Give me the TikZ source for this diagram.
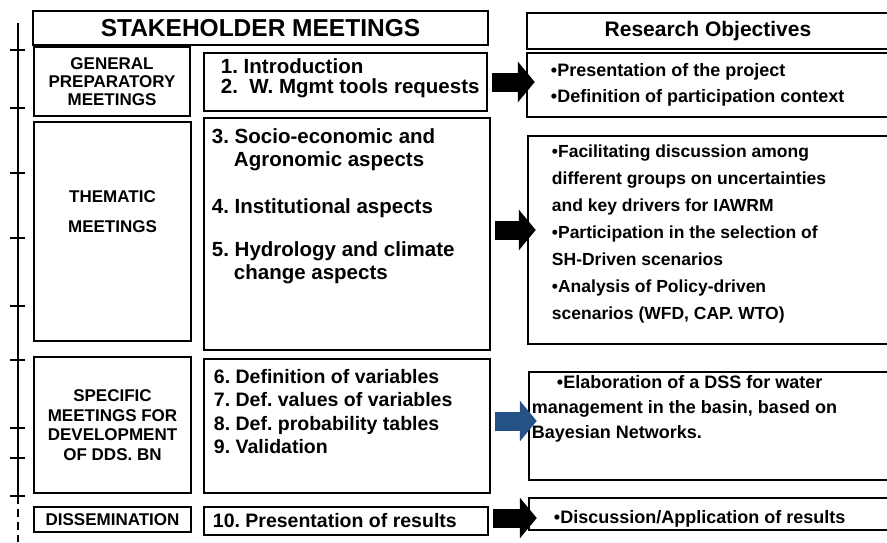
\documentclass[tikz,border=0pt]{standalone}
\usepackage{fontspec}
\setmainfont{Liberation Sans}
\usetikzlibrary{arrows.meta, positioning}
\definecolor{arrowblue}{RGB}{36,82,134}
\frenchspacing

\begin{document}
\begin{tikzpicture}[
    x=1pt, y=-1pt,
    box/.style={rectangle, draw, line width=2.5pt, inner sep=0pt}, % plain framed boxes
    lefttext/.style={font=\fontsize{17}{18}\selectfont\bfseries, align=center, inner sep=0pt},
    midtext/.style={font=\fontsize{20.5}{23.5}\selectfont\bfseries, align=left, inner sep=0pt},
    objtext/.style={font=\fontsize{18}{25}\selectfont\bfseries, align=left, inner sep=0pt},
    blockarrow/.style={line width=19pt, -{Triangle[length=17pt, width=40pt]}, shorten <=4pt, shorten >=-9pt},
    tickmark/.style={line width=2pt},
]
\clip (0,0) rectangle (887,542);

% Time line on the left
\draw[line width=2.5pt] (18,23) -- (18,496);
\draw[line width=2.5pt, dash pattern=on 8pt off 5pt] (18,496) -- (18,542);
\foreach \t in {50,108,173,238,306,360,428,458,496}
    \draw[tickmark] (10,\t) -- (25,\t);

% Left column: kind of meeting
\node[box, line width=2pt, minimum width=455pt, minimum height=34pt, font=\fontsize{24.5}{28}\selectfont\bfseries] (title) at (260.5,28) {STAKEHOLDER MEETINGS};
\node[box, lefttext, minimum width=156pt, minimum height=69pt] (gen) at (112,81.5) {GENERAL\\PREPARATORY\\MEETINGS};
\node[box, minimum width=157pt, minimum height=219pt] (them) at (112.5,231.5) {};
\node[lefttext, font=\fontsize{17}{30}\selectfont\bfseries] (them-txt) at ([yshift=19.5pt]them.center) {THEMATIC\\MEETINGS};
\node[box, lefttext, font=\fontsize{17}{19.5}\selectfont\bfseries, minimum width=157pt, minimum height=136pt] (spec) at (112.5,425) {SPECIFIC\\MEETINGS FOR\\DEVELOPMENT\\OF DDS. BN};
\node[box, lefttext, minimum width=157pt, minimum height=25pt] (diss) at (112.5,519.5) {DISSEMINATION};

% Middle column: topics
\node[box, minimum width=283pt, minimum height=58pt] (m1) at (345.5,82) {};
\node[midtext, font=\fontsize{20.5}{20}\selectfont\bfseries, below right=7pt and 18pt of m1.north west] (m1-txt) {1. Introduction\\2.\ \ W. Mgmt tools requests};
\node[box, minimum width=286pt, minimum height=232pt] (m2) at (347,234) {};
\node[midtext, font=\fontsize{20.5}{23}\selectfont\bfseries, below right=12pt and 9pt of m2.north west] (m2-txt) {%
    3. Socio-economic and\\\hspace*{22pt}Agronomic aspects\\[24pt]%
    4. Institutional aspects\\[20pt]%
    5. Hydrology and climate\\\hspace*{22pt}change aspects};
\node[box, minimum width=286pt, minimum height=134pt] (m3) at (347,426) {};
\node[midtext, font=\fontsize{19.5}{23.5}\selectfont\bfseries, below right=11pt and 11pt of m3.north west] (m3-txt) {%
    6. Definition of variables\\7. Def. values of variables\\8. Def. probability tables\\9. Validation};
\node[box, minimum width=284pt, minimum height=28pt] (m4) at (346,521) {};
\node[midtext, font=\fontsize{19.5}{22}\selectfont\bfseries, right=10pt of m4.west] (m4-txt) {10. Presentation of results};

% Right column: research objectives
\node[box, minimum width=362pt, minimum height=36pt, font=\fontsize{21}{22}\selectfont\bfseries] (rhead) at (708,31) {Research Objectives};
\node[box, minimum width=362pt, minimum height=64pt] (r1) at (708,85) {};
\node[objtext, font=\fontsize{18}{26}\selectfont\bfseries, right=25pt of r1.west] (r1-txt) {•Presentation of the project\\•Definition of participation context};
\node[box, minimum width=361pt, minimum height=208pt] (r2) at (708.5,240) {};
\node[objtext, font=\fontsize{17.5}{27}\selectfont\bfseries, right=25pt of r2.west, yshift=6pt] (r2-txt) {%
    •Facilitating discussion among\\different groups on uncertainties\\and key drivers for IAWRM\\%
    •Participation in the selection of\\SH-Driven scenarios\\%
    •Analysis of Policy-driven\\scenarios (WFD, CAP. WTO)};
\node[box, minimum width=360pt, minimum height=108pt] (r3) at (709,426) {};
\node[objtext, below right=4pt and 4pt of r3.north west] (r3-txt) {%
    \hspace*{25pt}•Elaboration of a DSS for water\\management in the basin, based on\\Bayesian Networks.};
\node[box, minimum width=360pt, minimum height=32pt] (r4) at (709,514) {};
\node[objtext, right=26pt of r4.west, yshift=-5pt] (r4-txt) {•Discussion/Application of results};

% Block arrows from topics to objectives
\draw[blockarrow] (m1.east) -- (m1.east -| r1.west);
\draw[blockarrow, transform canvas={yshift=4pt}] (m2.east) -- (m2.east -| r2.west);
\draw[blockarrow, arrowblue, transform canvas={yshift=5pt}] (m3.east) -- (m3.east -| r3.west);
\draw[blockarrow, transform canvas={yshift=3pt}] (m4.east) -- (m4.east -| r4.west);

\end{tikzpicture}
\end{document}
